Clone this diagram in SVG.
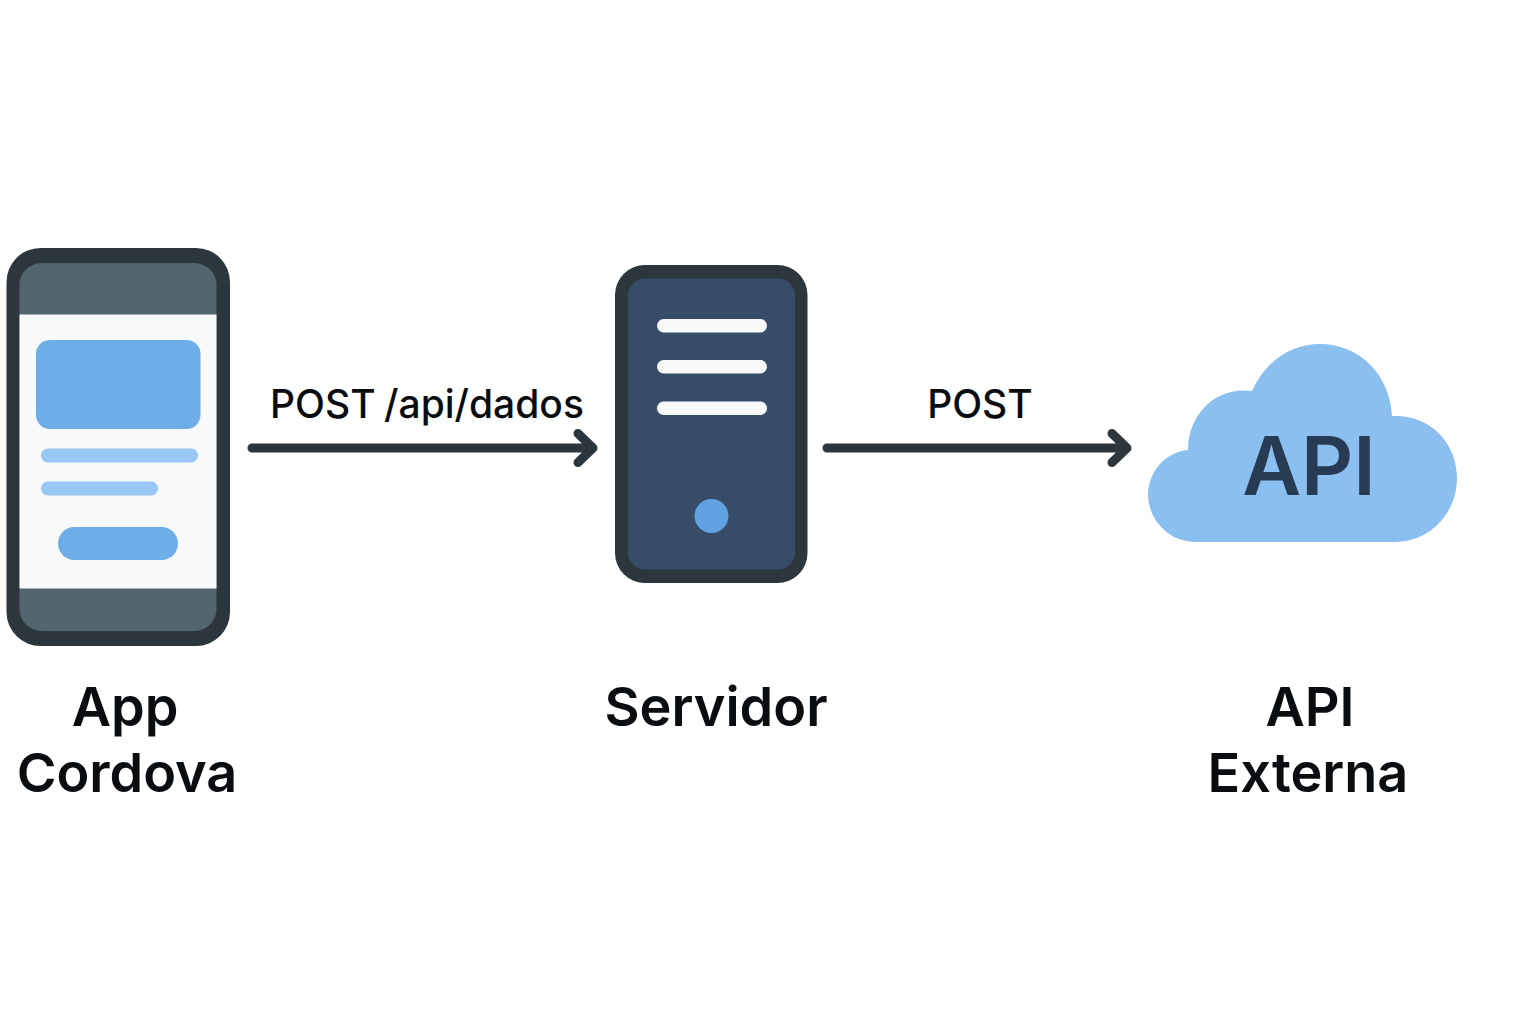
<svg xmlns="http://www.w3.org/2000/svg" width="1536" height="1024" viewBox="0 0 1536 1024">
<style>
.lbl{font-family:Inter,"Liberation Sans",sans-serif;fill:#0a0d10;text-anchor:middle}
.big{font-size:54px;font-weight:600}
.small{font-size:39px;font-weight:500;word-spacing:-2px}
.conn{fill:none;stroke:#2b363d;stroke-width:9;stroke-linecap:round;stroke-linejoin:round}
.bar{fill:#f8f9fa}
</style>
<rect width="1536" height="1024" fill="#fff"/>
<g id="app">
<rect x="6.500" y="248" width="223.500" height="398" rx="34" fill="#2b363d"/>
<rect x="19.500" y="263" width="197" height="368" rx="22" fill="#53656f"/>
<rect x="19.500" y="314.500" width="197" height="274" fill="#f8f9fa"/>
<rect x="36" y="340" width="164.500" height="89" rx="14" fill="#6eaee8"/>
<rect x="41" y="448.500" width="157" height="14" rx="7" fill="#99c6f3"/>
<rect x="41" y="481.500" width="117" height="14" rx="7" fill="#99c6f3"/>
<rect x="58" y="527" width="120" height="33" rx="16.500" fill="#6eaee8"/>
<text class="lbl big" x="125" y="726">App</text>
<text class="lbl big" x="127" y="792">Cordova</text>
</g>
<g id="server">
<rect x="615" y="265" width="192.500" height="318" rx="30" fill="#2b363d"/>
<rect x="628" y="278.500" width="167" height="291" rx="17" fill="#374c66"/>
<rect class="bar" x="657" y="319" width="110" height="13.500" rx="6.700"/>
<rect class="bar" x="657" y="360" width="110" height="13.500" rx="6.700"/>
<rect class="bar" x="657" y="401.500" width="110" height="13.500" rx="6.700"/>
<circle cx="711.500" cy="516" r="17" fill="#60a2e2"/>
<text class="lbl big" x="716" y="726">Servidor</text>
</g>
<g id="api">
<path d="M1196 542A48 48 0 0 1 1148 496C1148 472 1165 452 1188 450C1188 415 1215 386 1252 391C1265 362 1290 344 1320 344C1360 344 1390 375 1392 416C1430 414 1457 443 1457 478C1457 513 1430 542 1395 542Z" fill="#8bbff0"/>
<text x="1309" y="495" font-family="Inter,'Liberation Sans',sans-serif" font-weight="600" font-size="81" fill="#273c54" text-anchor="middle">API</text>
<text class="lbl big" x="1310" y="726">API</text>
<text class="lbl big" x="1308" y="792">Externa</text>
</g>
<g id="connectors">
<path class="conn" d="M252 448H592M578 433.500L593 448L578 462.500"/>
<path class="conn" d="M827 448H1126M1112 433.500L1127 448L1112 462.500"/>
<text class="lbl small" x="427" y="418">POST /api/dados</text>
<text class="lbl small" x="980" y="418">POST</text>
</g>
</svg>
